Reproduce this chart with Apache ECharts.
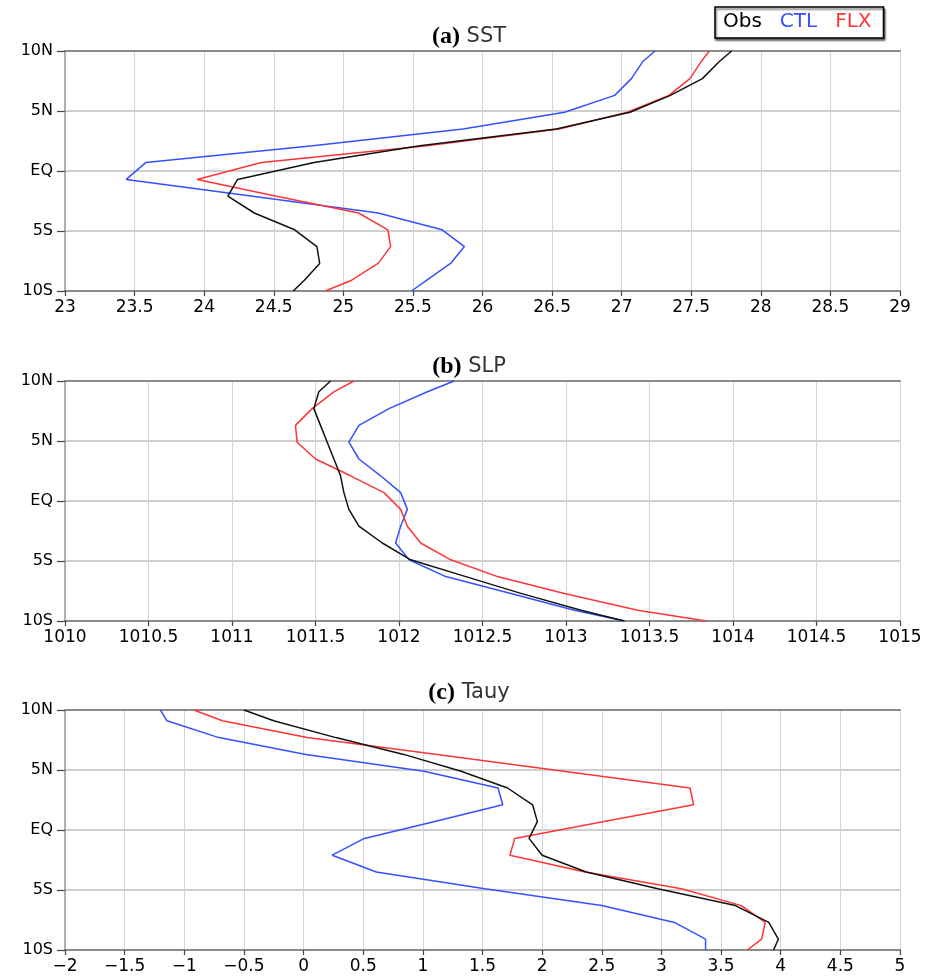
<!DOCTYPE html>
<html>
<head>
<meta charset="utf-8">
<script src="https://cdn.jsdelivr.net/npm/echarts@6/dist/echarts.min.js"></script>
<style>
html,body{margin:0;padding:0;background:#fff;}
#chart{width:936px;height:977px;}
</style>
</head>
<body>
<div id="chart"></div>
<script>
// Latitudes (deg, + = N)
const lats = [10, 9.1, 7.7, 6.3, 4.9, 3.5, 2.1, 0.7, -0.7, -2.1, -3.5, -4.9, -6.3, -7.7, -9.1, -10];
const latTicks = {"10": "10N", "5": "5N", "0": "EQ", "-5": "5S", "-10": "10S"};
const seriesNames = ["Obs", "CTL", "FLX"];

// (a) SST
const sstObs = [27.79, 27.70, 27.58, 27.35, 27.06, 26.53, 25.55, 24.79, 24.24, 24.17, 24.36, 24.65, 24.81, 24.83, 24.72, 24.64];
const sstCtl = [27.24, 27.15, 27.07, 26.95, 26.59, 25.86, 24.78, 23.58, 23.44, 24.35, 25.25, 25.71, 25.87, 25.77, 25.60, 25.49];
const sstFlx = [27.63, 27.57, 27.49, 27.34, 27.04, 26.55, 25.60, 24.41, 23.95, 24.52, 25.11, 25.32, 25.34, 25.25, 25.06, 24.87];

// (b) SLP
const slpObs = [1011.59, 1011.52, 1011.49, 1011.53, 1011.57, 1011.61, 1011.65, 1011.67, 1011.70, 1011.76, 1011.90, 1012.07, 1012.40, 1012.73, 1013.09, 1013.35];
const slpCtl = [1012.33, 1012.17, 1011.94, 1011.76, 1011.70, 1011.76, 1011.89, 1012.01, 1012.05, 1012.01, 1011.98, 1012.06, 1012.28, 1012.67, 1013.05, 1013.35];
const slpFlx = [1011.73, 1011.61, 1011.48, 1011.38, 1011.39, 1011.50, 1011.71, 1011.91, 1012.01, 1012.05, 1012.13, 1012.31, 1012.59, 1012.99, 1013.43, 1013.84];

// (c) Tauy
const tauObs = [-0.50, -0.25, 0.27, 0.84, 1.32, 1.71, 1.92, 1.96, 1.89, 2.00, 2.37, 2.97, 3.62, 3.90, 3.98, 3.94];
const tauCtl = [-1.20, -1.145, -0.71, 0.02, 1.01, 1.63, 1.67, 1.10, 0.51, 0.24, 0.61, 1.52, 2.50, 3.11, 3.37, 3.37];
const tauFlx = [-0.92, -0.68, 0.03, 1.12, 2.18, 3.24, 3.27, 2.52, 1.77, 1.73, 2.36, 3.17, 3.67, 3.87, 3.84, 3.72];

const panels = [
  {tag: "(a)", name: "SST", min: 23, max: 29, interval: 0.5, data: [sstObs, sstCtl, sstFlx]},
  {tag: "(b)", name: "SLP", min: 1010, max: 1015, interval: 0.5, data: [slpObs, slpCtl, slpFlx]},
  {tag: "(c)", name: "Tauy", min: -2, max: 5, interval: 0.5, data: [tauObs, tauCtl, tauFlx]}
];

const colors = ["#111111", "#3550ff", "#ff3535"];
const gridTops = [51, 381, 710];
const titleTops = [20, 350, 676];
const plotH = 240;

const chart = echarts.init(document.getElementById('chart'), null, {renderer: 'canvas'});

const grids = [], xAxes = [], yAxes = [], series = [], titles = [];
panels.forEach((p, i) => {
  grids.push({left: 65, right: 36, top: gridTops[i], height: plotH, containLabel: false});
  xAxes.push({
    type: 'value', gridIndex: i, position: 'bottom', min: p.min, max: p.max, interval: p.interval,
    axisLine: {show: true, onZero: false, lineStyle: {color: '#8a8a8a', width: 2}},
    axisTick: {show: true, length: 5, lineStyle: {color: '#444', width: 1.2}},
    axisLabel: {color: '#000', fontSize: 17, fontFamily: 'DejaVu Sans', margin: 8,
      formatter: v => String(Math.round(v * 10) / 10).replace('-', '\u2212')},
    splitLine: {show: true, lineStyle: {color: '#d4d4d4', width: 1}}
  });
  xAxes.push({
    type: 'value', gridIndex: i, position: 'top', min: p.min, max: p.max, interval: p.interval,
    axisLine: {show: true, onZero: false, lineStyle: {color: '#8a8a8a', width: 2}},
    axisTick: {show: false}, axisLabel: {show: false}, splitLine: {show: false}
  });
  yAxes.push({
    type: 'value', gridIndex: i, min: -10, max: 10, interval: 5,
    axisLine: {show: true, onZero: false, lineStyle: {color: '#9a9a9a', width: 1.5}},
    axisTick: {show: true, length: 8, lineStyle: {color: '#444', width: 1.2}},
    axisLabel: {color: '#000', fontSize: 16, fontFamily: 'DejaVu Sans', margin: 12,
      formatter: v => latTicks[String(v)] || ''},
    splitLine: {show: true, lineStyle: {color: '#cfcfcf', width: 2}}
  });
  p.data.forEach((vals, k) => {
    series.push({
      type: 'line', name: seriesNames[k], xAxisIndex: i * 2, yAxisIndex: i,
      data: vals.map((v, j) => [v, lats[j]]),
      showSymbol: false, symbol: 'none', smooth: false, clip: true,
      lineStyle: {color: colors[k], width: 1.5},
      itemStyle: {color: colors[k]},
      z: k === 0 ? 3 : 2,
      animation: false
    });
  });
  titles.push({
    text: '{t|' + p.tag + '}{n| ' + p.name + '}',
    left: 464, top: titleTops[i], textAlign: 'center',
    textStyle: {
      fontWeight: 'normal',
      rich: {
        t: {fontFamily: 'Liberation Serif', fontWeight: 'bold', fontSize: 24, color: '#000'},
        n: {fontFamily: 'DejaVu Sans', fontWeight: 'normal', fontSize: 21, color: '#333'}
      }
    }
  });
});

chart.setOption({
  animation: false,
  backgroundColor: '#fff',
  title: titles,
  legend: {
    left: 715, top: 7,
    orient: 'horizontal',
    icon: 'none', itemWidth: 0, itemHeight: 0, itemGap: 13,
    padding: [5, 12, 6, 3],
    backgroundColor: '#fff',
    borderColor: '#000', borderWidth: 1.5,
    shadowColor: 'rgba(0,0,0,0.6)', shadowOffsetX: 1, shadowOffsetY: 2, shadowBlur: 2,
    selectedMode: false,
    textStyle: {fontSize: 20, fontFamily: 'DejaVu Sans'},
    data: [
      {name: 'Obs', textStyle: {color: '#000'}},
      {name: 'CTL', textStyle: {color: colors[1]}},
      {name: 'FLX', textStyle: {color: colors[2]}}
    ]
  },
  grid: grids,
  xAxis: xAxes,
  yAxis: yAxes,
  series: series
});
</script>
</body>
</html>
